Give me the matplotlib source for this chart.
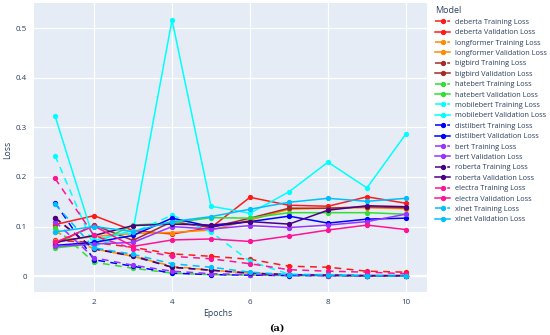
import matplotlib
matplotlib.use('Agg')
import matplotlib.pyplot as plt

plt.rcParams['font.family'] = ['Open Sans', 'DejaVu Sans']

epochs = [1, 2, 3, 4, 5, 6, 7, 8, 9, 10]

models = ['deberta', 'longformer', 'bigbird', 'hatebert', 'mobilebert',
          'distilbert', 'bert', 'roberta', 'electra', 'xlnet']

deberta_train = [0.072, 0.068, 0.058, 0.045, 0.040, 0.034, 0.020, 0.018, 0.010, 0.008]
deberta_val = [0.104, 0.122, 0.092, 0.085, 0.098, 0.159, 0.143, 0.141, 0.160, 0.147]
longformer_train = [0.090, 0.055, 0.040, 0.020, 0.012, 0.006, 0.003, 0.002, 0.001, 0.001]
longformer_val = [0.070, 0.080, 0.086, 0.088, 0.093, 0.113, 0.135, 0.137, 0.138, 0.136]
bigbird_train = [0.117, 0.055, 0.042, 0.018, 0.012, 0.006, 0.003, 0.002, 0.001, 0.001]
bigbird_val = [0.065, 0.103, 0.072, 0.110, 0.098, 0.117, 0.137, 0.137, 0.140, 0.138]
hatebert_train = [0.098, 0.028, 0.016, 0.006, 0.003, 0.002, 0.001, 0.001, 0.0005, 0.0005]
hatebert_val = [0.057, 0.065, 0.103, 0.107, 0.118, 0.117, 0.128, 0.128, 0.128, 0.125]
mobilebert_train = [0.243, 0.060, 0.088, 0.123, 0.089, 0.030, 0.004, 0.003, 0.002, 0.002]
mobilebert_val = [0.323, 0.072, 0.092, 0.517, 0.141, 0.127, 0.170, 0.230, 0.178, 0.287]
distilbert_train = [0.148, 0.033, 0.020, 0.006, 0.003, 0.002, 0.001, 0.001, 0.0005, 0.0005]
distilbert_val = [0.062, 0.068, 0.082, 0.117, 0.100, 0.110, 0.121, 0.107, 0.115, 0.117]
bert_train = [0.110, 0.037, 0.022, 0.010, 0.005, 0.003, 0.002, 0.001, 0.001, 0.001]
bert_val = [0.060, 0.065, 0.068, 0.100, 0.095, 0.102, 0.098, 0.103, 0.110, 0.125]
roberta_train = [0.118, 0.055, 0.040, 0.018, 0.012, 0.006, 0.003, 0.002, 0.001, 0.001]
roberta_val = [0.068, 0.082, 0.102, 0.105, 0.103, 0.110, 0.105, 0.133, 0.142, 0.140]
electra_train = [0.197, 0.082, 0.055, 0.040, 0.035, 0.025, 0.013, 0.010, 0.008, 0.005]
electra_val = [0.068, 0.101, 0.060, 0.073, 0.075, 0.070, 0.081, 0.093, 0.103, 0.094]
xlnet_train = [0.145, 0.057, 0.044, 0.025, 0.018, 0.008, 0.003, 0.002, 0.001, 0.000]
xlnet_val = [0.089, 0.100, 0.090, 0.110, 0.120, 0.135, 0.149, 0.157, 0.151, 0.157]

train_losses = [deberta_train, longformer_train, bigbird_train, hatebert_train, mobilebert_train,
                distilbert_train, bert_train, roberta_train, electra_train, xlnet_train]
val_losses = [deberta_val, longformer_val, bigbird_val, hatebert_val, mobilebert_val,
              distilbert_val, bert_val, roberta_val, electra_val, xlnet_val]

colors = ['#FF1A1A', '#FF8C00', '#A52A2A', '#33DD33', '#00FFFF',
          '#0000FF', '#9933FF', '#4B0082', '#FF1493', '#00BFFF']

PLOT_BG = '#E5ECF6'
TEXT_COLOR = '#2a3f5f'

fig = plt.figure(figsize=(5.5, 3.35), dpi=100)
ax = fig.add_axes([34 / 550, 1 - 292 / 335, (427 - 34) / 550, (292 - 3) / 335])
ax.set_facecolor(PLOT_BG)

for name, tr, va, c in zip(models, train_losses, val_losses, colors):
    ax.plot(epochs, tr, color=c, lw=1.1, dashes=(4.5, 3.5), marker='o', ms=2.8,
            label=f'{name} Training Loss')
    ax.plot(epochs, va, color=c, lw=1.1, marker='o', ms=2.8,
            label=f'{name} Validation Loss')

ax.set_xlim(0.46, 10.54)
ax.set_ylim(-0.032, 0.551)
ax.set_xticks([2, 4, 6, 8, 10])
ax.set_yticks([0, 0.1, 0.2, 0.3, 0.4, 0.5])
ax.set_yticklabels(['0', '0.1', '0.2', '0.3', '0.4', '0.5'])
ax.grid(color='white', lw=0.9)
ax.axhline(0, color='white', lw=1.6, zorder=0.5)
ax.set_axisbelow(True)
for s in ax.spines.values():
    s.set_visible(False)
ax.tick_params(length=0, labelsize=5.8, labelcolor=TEXT_COLOR, pad=5)

fig.text(8 / 550, 1 - 150 / 335, 'Loss', rotation=90, ha='center', va='center',
         fontsize=6.2, color=TEXT_COLOR)
fig.text(218 / 550, 1 - 313 / 335, 'Epochs', ha='center', va='center',
         fontsize=6.2, color=TEXT_COLOR)
fig.text(277 / 550, 1 - 328 / 335, '(a)', ha='center', va='center',
         fontsize=7, fontweight='bold', family='DejaVu Serif', color='black')

leg = fig.legend(loc='upper left', bbox_to_anchor=(434 / 550, 1 - 5 / 335),
                 frameon=False, fontsize=5.3, title='Model', title_fontsize=6.5,
                 handlelength=2.0, handletextpad=0.6, labelspacing=0.44,
                 borderaxespad=0, borderpad=0.2)
leg._legend_box.align = 'left'
for t in leg.get_texts():
    t.set_color(TEXT_COLOR)
leg.get_title().set_color(TEXT_COLOR)

fig.savefig('out.png', dpi=100)
